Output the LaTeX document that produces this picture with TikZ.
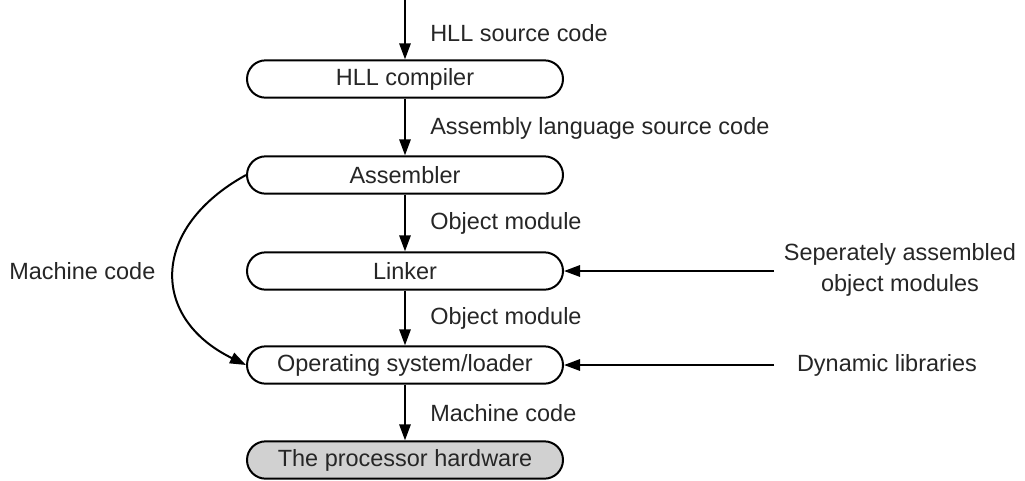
\documentclass[tikz,border=0pt]{standalone}
\usepackage{fontspec}
\setmainfont{Liberation Sans}
\usetikzlibrary{arrows.meta}
\begin{document}
\begin{tikzpicture}[x=0.75pt,y=-0.75pt,
  font=\fontsize{17.6}{21}\selectfont,
  every node/.style={inner sep=0pt, text=black!85},
  box/.style={draw=black, line width=1.5pt, rounded corners=14pt,
    minimum width=237pt, minimum height=28pt, fill=white},
  hw/.style={box, fill=black!18},
  conn/.style={line width=1.5pt, -{Triangle[length=12pt,width=8.5pt]}},
  lbl/.style={anchor=west}]
\useasboundingbox (0,0) rectangle (1025,480);
\node[box] (hll) at (405,79) {HLL compiler};
\node[box] (asm) at (405,175) {Assembler};
\node[box] (lnk) at (405,271) {Linker};
\node[box] (os) at (405,365) {Operating system/loader};
\node[hw] (hw) at (405,460) {The processor hardware};
\coordinate (top) at (405,0);
\coordinate (sep) at (774,271);
\coordinate (dyn) at (774,365);
\draw[conn] (top) -- (hll.north);
\draw[conn] (hll.south) -- (asm.north);
\draw[conn] (asm.south) -- (lnk.north);
\draw[conn] (lnk.south) -- (os.north);
\draw[conn] (os.south) -- (hw.north);
\draw[conn] (sep) -- (lnk.east);
\draw[conn] (dyn) -- (os.east);
\draw[conn] (asm.west) .. controls (150,228) and (150,318) .. (os.west);
\node[lbl] (l1) at (430,33) {HLL source code};
\node[lbl] (l2) at (430,128) {Assembly language source code};
\node[lbl] (l3) at (430,223) {Object module};
\node[lbl] (l4) at (430,318) {Object module};
\node[lbl] (l5) at (430,413) {Machine code};
\node[anchor=west] (mc) at (9,271) {Machine code};
\node[align=center] (sam) at (900,270) {Seperately assembled\\[2pt]object modules};
\node (dl) at (887,365) {Dynamic libraries};
\end{tikzpicture}
\end{document}
